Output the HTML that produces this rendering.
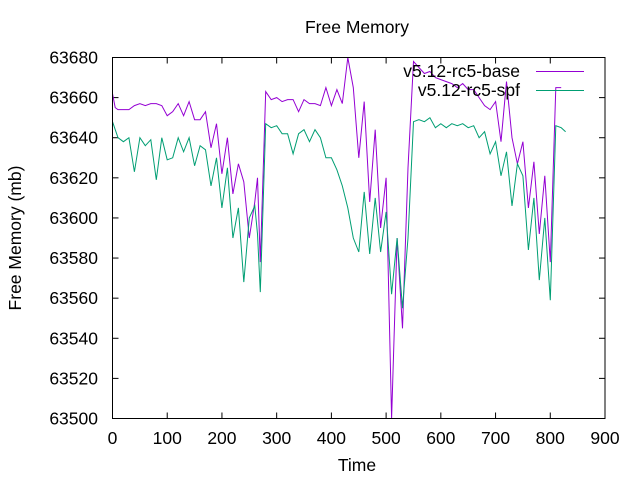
<!DOCTYPE html>
<html><head><meta charset="utf-8"><style>
html,body{margin:0;padding:0;background:#fff;}
svg{display:block;font-family:"Liberation Sans",sans-serif;}
</style></head><body>
<svg id="chart" width="640" height="480" viewBox="0 0 640 480">
<text x="357" y="33" font-size="17.5" text-anchor="middle">Free Memory</text>
<text x="357" y="471" font-size="17.5" text-anchor="middle">Time</text>
<text transform="translate(21,238) rotate(-90)" font-size="17.5" text-anchor="middle">Free Memory (mb)</text>
<g id="ticks"></g>
<g id="series"></g>
<rect x="112.5" y="57.5" width="492.5" height="361" fill="none" stroke="#000" stroke-width="1"/>
<g>
<text x="520" y="77" font-size="17.5" text-anchor="end">v5.12-rc5-base</text>
<line x1="536" y1="71.5" x2="584" y2="71.5" stroke="#9400d3" stroke-width="1"/>
<text x="520" y="96" font-size="17.5" text-anchor="end">v5.12-rc5-spf</text>
<line x1="536" y1="90.5" x2="584" y2="90.5" stroke="#009e73" stroke-width="1"/>
</g>
</svg>
<script>
const xTicks=[0,100,200,300,400,500,600,700,800,900];
const yTicks=[63500,63520,63540,63560,63580,63600,63620,63640,63660,63680];
const baseTimes=[0,5,10,20,30,40,50,60,70,80,90,100,110,120,130,140,150,160,170,180,190,200,210,220,230,240,250,260,265,270,280,290,300,310,320,330,340,350,360,370,380,390,400,410,420,430,440,450,460,470,480,490,500,510,520,530,540,550,560,570,580,590,600,610,620,630,640,650,660,670,680,690,700,710,720,730,740,750,760,770,780,790,800,810,820];
const baseValues=[63662,63655,63654,63654,63654,63656,63657,63656,63657,63657,63656,63651,63653,63657,63651,63658,63649,63649,63653,63635,63647,63622,63640,63612,63627,63618,63590,63608,63620,63578,63663,63659,63660,63658,63659,63659,63653,63659,63657,63657,63656,63665,63656,63664,63657,63680,63665,63630,63658,63608,63644,63595,63620,63500,63590,63545,63625,63678,63675,63672,63673,63670,63669,63668,63667,63665,63667,63664,63664,63660,63656,63654,63658,63638,63668,63640,63627,63638,63605,63628,63592,63621,63578,63665,63665];
const spfTimes=[0,10,20,30,40,50,60,70,80,90,100,110,120,130,140,150,160,170,180,190,200,210,220,230,240,250,260,265,270,280,290,300,310,320,330,340,350,360,370,380,390,400,410,420,430,440,450,460,470,480,490,500,510,520,530,540,550,560,570,580,590,600,610,620,630,640,650,660,670,680,690,700,710,720,730,740,750,760,770,780,790,800,810,820,828];
const spfValues=[63648,63640,63638,63640,63623,63640,63636,63639,63619,63640,63629,63630,63640,63633,63640,63626,63636,63634,63616,63630,63605,63625,63590,63605,63568,63600,63606,63592,63563,63647,63645,63646,63642,63642,63632,63642,63644,63638,63644,63640,63630,63630,63624,63616,63605,63590,63583,63613,63582,63610,63583,63603,63562,63590,63555,63590,63648,63649,63648,63650,63645,63647,63645,63647,63646,63647,63645,63646,63640,63643,63632,63638,63621,63633,63606,63627,63621,63584,63610,63569,63600,63559,63646,63645,63643];

const X0=112.5,X1=605,Y0=418.5,Y1=57.5;
function xs(t){return X0+(t-0)/(900-0)*(X1-X0);}
function ys(v){return Y0-(v-63500)/(63680-63500)*(Y0-Y1);}
const NS="http://www.w3.org/2000/svg";
const tg=document.getElementById('ticks');
xTicks.forEach(t=>{
  const x=xs(t);
  const l1=document.createElementNS(NS,'line');
  l1.setAttribute('x1',x);l1.setAttribute('x2',x);l1.setAttribute('y1',Y0);l1.setAttribute('y2',Y0-6);l1.setAttribute('stroke','#000');
  
  
  tg.appendChild(l1);
  const l2=document.createElementNS(NS,'line');
  l2.setAttribute('x1',x);l2.setAttribute('x2',x);l2.setAttribute('y1',Y1);l2.setAttribute('y2',Y1+6);l2.setAttribute('stroke','#000');
  
  
  tg.appendChild(l2);
  const tx=document.createElementNS(NS,'text');
  tx.setAttribute('x',x);tx.setAttribute('y',444);tx.setAttribute('font-size','17.5');tx.setAttribute('text-anchor','middle');
  tx.textContent=t;
  
  
  tg.appendChild(tx);
});
yTicks.forEach(v=>{
  const y=ys(v);
  const l1=document.createElementNS(NS,'line');
  l1.setAttribute('x1',X0);l1.setAttribute('x2',X0+6);l1.setAttribute('y1',y);l1.setAttribute('y2',y);l1.setAttribute('stroke','#000');
  
  
  tg.appendChild(l1);
  const l2=document.createElementNS(NS,'line');
  l2.setAttribute('x1',X1);l2.setAttribute('x2',X1-6);l2.setAttribute('y1',y);l2.setAttribute('y2',y);l2.setAttribute('stroke','#000');
  
  
  tg.appendChild(l2);
  const tx=document.createElementNS(NS,'text');
  tx.setAttribute('x',98);tx.setAttribute('y',y+6);tx.setAttribute('font-size','17.5');tx.setAttribute('text-anchor','end');
  tx.textContent=v;
  
  
  tg.appendChild(tx);
});
const sg=document.getElementById('series');
function draw(times,vals,color,name){
  const pts=times.map((t,i)=>xs(t).toFixed(1)+','+ys(vals[i]).toFixed(1)).join(' ');
  const p=document.createElementNS(NS,'polyline');
  p.setAttribute('points',pts);p.setAttribute('fill','none');p.setAttribute('stroke',color);p.setAttribute('stroke-width','1');
  
  
  sg.appendChild(p);
}
draw(baseTimes,baseValues,'#9400d3','series-v5-12-rc5-base');
draw(spfTimes,spfValues,'#009e73','series-v5-12-rc5-spf');
</script>
</body></html>
